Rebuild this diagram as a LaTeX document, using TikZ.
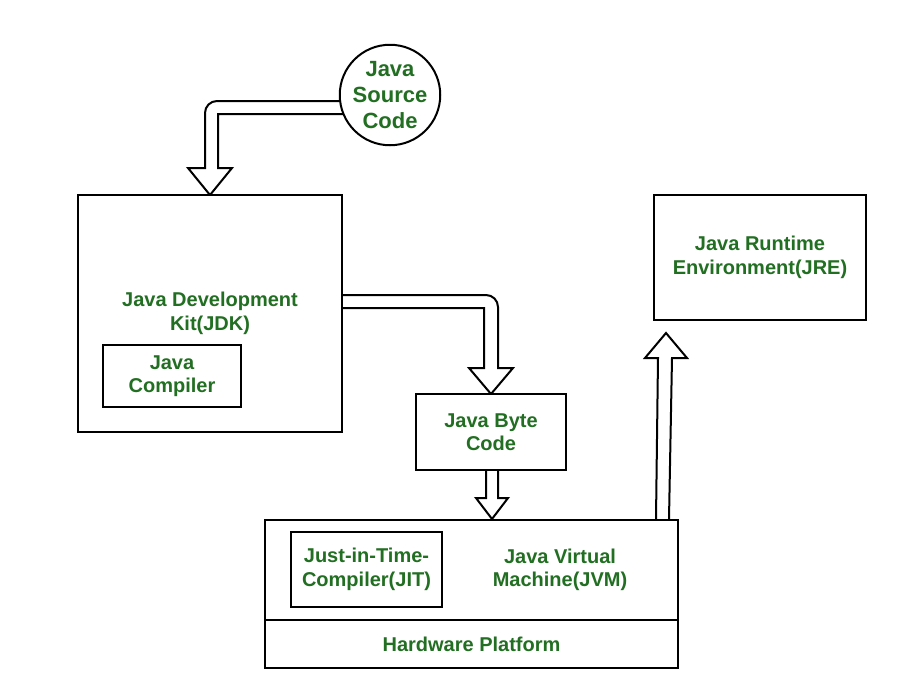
\documentclass[tikz,border=0pt]{standalone}
\usepackage{fontspec}
\setmainfont{Liberation Sans}
\definecolor{txtgreen}{RGB}{34,110,34}
\begin{document}
\begin{tikzpicture}[x=1pt,y=-1pt,
  lbl/.style={font=\fontsize{20}{23.5}\selectfont\bfseries, text=txtgreen, align=center},
  box/.style={draw=black, line width=2pt, fill=white, inner sep=0pt, lbl},
  barrow/.style={draw=black, line width=2pt, fill=white, line join=miter}]
\useasboundingbox (0,0) rectangle (905,675);
% block arrows (drawn first, boxes on top)
\draw[barrow] (352,101) [rounded corners=12] -- (205,101) [sharp corners] -- (205,168) -- (188,168) -- (210,195) -- (232,168) -- (218,168) -- (218,114) -- (352,114);
\draw[barrow] (342,295) [rounded corners=12] -- (498,295) [sharp corners] -- (498,368) -- (513,368) -- (491,394) -- (469,368) -- (484,368) -- (484,308) -- (342,308);
\draw[barrow] (486,470) -- (486,498) -- (476,498) -- (492,519) -- (508,498) -- (498,498) -- (498,470);
\draw[barrow] (656,519) -- (658,358) -- (645,358) -- (666,333) -- (687,358) -- (672,358) -- (669,519);
% nodes
\node[box, circle, minimum size=100, font=\fontsize{22}{26}\selectfont\bfseries] (src) at (390,95) {Java\\Source\\Code};
\node[box, minimum width=264, minimum height=237] (jdk) at (210,313.5) {Java Development\\Kit(JDK)};
\node[box, minimum width=138, minimum height=62] (jc) at (172,376) {Java\\Compiler};
\node[box, minimum width=150, minimum height=76] (bc) at (491,432) {Java Byte\\Code};
\node[box, minimum width=212, minimum height=125] (jre) at (760,257.5) {Java Runtime\\Environment(JRE)};
\node[box, minimum width=413, minimum height=100] (jvm) at (471.5,570) {};
\node[box, minimum width=413, minimum height=48] (hw) at (471.5,644) {Hardware Platform};
\node[box, minimum width=151, minimum height=75] (jit) at (366.5,569.5) {Just-in-Time-\\Compiler(JIT)};
\node[lbl] (jvmt) at (560,570) {Java Virtual\\Machine(JVM)};
\end{tikzpicture}
\end{document}
